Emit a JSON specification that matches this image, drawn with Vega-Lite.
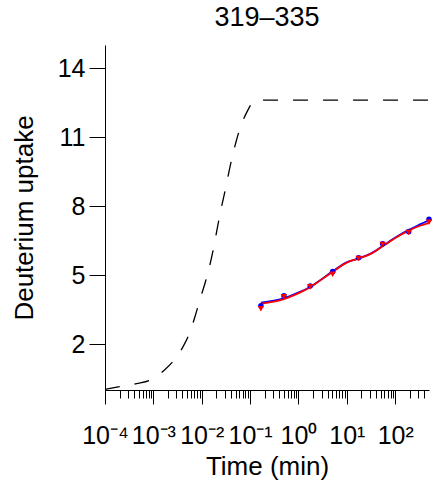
{
  "$schema": "https://vega.github.io/schema/vega-lite/v6.json",
  "width": 324,
  "height": 345,
  "autosize": {"type": "none"},
  "padding": {"left": 105, "top": 45, "right": 16, "bottom": 104},
  "background": "white",
  "title": {"text": "319–335", "fontSize": 27, "font": "Liberation Sans", "fontWeight": "normal", "color": "black", "offset": 13, "anchor": "middle"},
  "config": {
    "view": {"stroke": null},
    "font": "Liberation Sans",
    "axis": {"grid": false, "domainColor": "black", "tickColor": "black", "labelColor": "black", "titleColor": "black", "titleFontWeight": "normal", "labelFont": "Liberation Sans", "titleFont": "Liberation Sans", "domainWidth": 1, "tickWidth": 1}
  },
  "datasets": {
    "theo": [
      {"t": 0.0001, "d": 0.03}, {"t": 0.0002, "d": 0.15}, {"t": 0.00045, "d": 0.28}, {"t": 0.0009, "d": 0.45},
      {"t": 0.0017, "d": 0.87}, {"t": 0.00275, "d": 1.33}, {"t": 0.0043, "d": 1.96}, {"t": 0.00565, "d": 2.5},
      {"t": 0.0074, "d": 3.25}, {"t": 0.0091, "d": 3.9}, {"t": 0.0121, "d": 4.75}, {"t": 0.0142, "d": 5.3},
      {"t": 0.0167, "d": 5.95}, {"t": 0.0192, "d": 6.6}, {"t": 0.0217, "d": 7.2}, {"t": 0.0256, "d": 7.95},
      {"t": 0.0314, "d": 8.8}, {"t": 0.0351, "d": 9.3}, {"t": 0.0412, "d": 10.0}, {"t": 0.0506, "d": 10.75},
      {"t": 0.0612, "d": 11.35}, {"t": 0.0842, "d": 12.05}, {"t": 0.131, "d": 12.6}, {"t": 500, "d": 12.6}
    ],
    "curveBlue": [
      {"t": 0.167, "d": 3.8}, {"t": 0.48, "d": 3.97}, {"t": 0.91, "d": 4.2}, {"t": 1.81, "d": 4.5},
      {"t": 3.0, "d": 4.82}, {"t": 5.15, "d": 5.17}, {"t": 9.9, "d": 5.55}, {"t": 18.1, "d": 5.73},
      {"t": 32.6, "d": 5.95}, {"t": 55.9, "d": 6.27}, {"t": 107, "d": 6.66}, {"t": 190, "d": 6.96},
      {"t": 326, "d": 7.2}, {"t": 500, "d": 7.38}
    ],
    "curveRed": [
      {"t": 0.167, "d": 3.75}, {"t": 0.48, "d": 3.94}, {"t": 0.91, "d": 4.17}, {"t": 1.81, "d": 4.49},
      {"t": 3.0, "d": 4.81}, {"t": 5.15, "d": 5.14}, {"t": 9.9, "d": 5.54}, {"t": 18.1, "d": 5.72},
      {"t": 32.6, "d": 5.94}, {"t": 55.9, "d": 6.26}, {"t": 107, "d": 6.64}, {"t": 190, "d": 6.93},
      {"t": 326, "d": 7.14}, {"t": 500, "d": 7.27}
    ],
    "ptsBlue": [
      {"t": 0.167, "d": 3.66}, {"t": 0.5, "d": 4.1}, {"t": 1.75, "d": 4.52}, {"t": 5.1, "d": 5.15},
      {"t": 17.5, "d": 5.75}, {"t": 55, "d": 6.36}, {"t": 190, "d": 6.88}, {"t": 500, "d": 7.42}
    ],
    "ptsRed": [
      {"t": 0.167, "d": 3.53}, {"t": 0.5, "d": 4.06}, {"t": 1.75, "d": 4.49}, {"t": 5.1, "d": 5.03},
      {"t": 17.5, "d": 5.72}, {"t": 55, "d": 6.33}, {"t": 190, "d": 6.85}, {"t": 500, "d": 7.29}
    ]
  },
  "encoding": {
    "x": {
      "field": "t", "type": "quantitative",
      "scale": {"type": "log", "domain": [0.0001, 500], "nice": false},
      "axis": {
        "title": "Time (min)",
        "values": [0.0001,0.0002,0.0003,0.0004,0.0005,0.0006,0.0007,0.0008,0.0009,
                   0.001,0.002,0.003,0.004,0.005,0.006,0.007,0.008,0.009,
                   0.01,0.02,0.03,0.04,0.05,0.06,0.07,0.08,0.09,
                   0.1,0.2,0.3,0.4,0.5,0.6,0.7,0.8,0.9,
                   1,2,3,4,5,6,7,8,9,
                   10,20,30,40,50,60,70,80,90,
                   100,200,300,400],
        "labelExpr": "abs(log(datum.value)/LN10 - round(log(datum.value)/LN10)) < 0.001 ? '10' + ['⁻⁴','⁻³','⁻²','⁻¹','⁰','¹','²'][round(log(datum.value)/LN10)+4] : ''",
        "tickSize": {"condition": {"test": "abs(log(datum.value)/LN10 - round(log(datum.value)/LN10)) < 0.001", "value": 14}, "value": 8},
        "labelOverlap": false,
        "labelFlush": false,
        "labelFontSize": 25,
        "labelPadding": 19,
        "titleFontSize": 26,
        "titlePadding": 5
      }
    },
    "y": {
      "field": "d", "type": "quantitative",
      "scale": {"domain": [0, 15], "nice": false, "zero": false},
      "axis": {
        "title": "Deuterium uptake",
        "values": [2, 5, 8, 11, 14],
        "tickSize": 16,
        "labelFontSize": 25,
        "labelPadding": 4,
        "titleFontSize": 26,
        "titlePadding": 20
      }
    }
  },
  "layer": [
    {"data": {"name": "theo"}, "mark": {"type": "line", "color": "black", "strokeWidth": 1.3, "strokeDash": [15, 15], "interpolate": "monotone"}},
    {"data": {"name": "curveBlue"}, "mark": {"type": "line", "color": "#0000ff", "strokeWidth": 1.8, "interpolate": "monotone"}},
    {"data": {"name": "curveRed"}, "mark": {"type": "line", "color": "#ff0000", "strokeWidth": 1.8, "interpolate": "monotone"}},
    {"data": {"name": "ptsBlue"}, "mark": {"type": "point", "shape": "circle", "filled": true, "color": "#0000ff", "size": 30, "opacity": 1}},
    {"data": {"name": "ptsRed"}, "mark": {"type": "point", "shape": "triangle-down", "filled": true, "color": "#ff0000", "size": 40, "opacity": 1}}
  ]
}
